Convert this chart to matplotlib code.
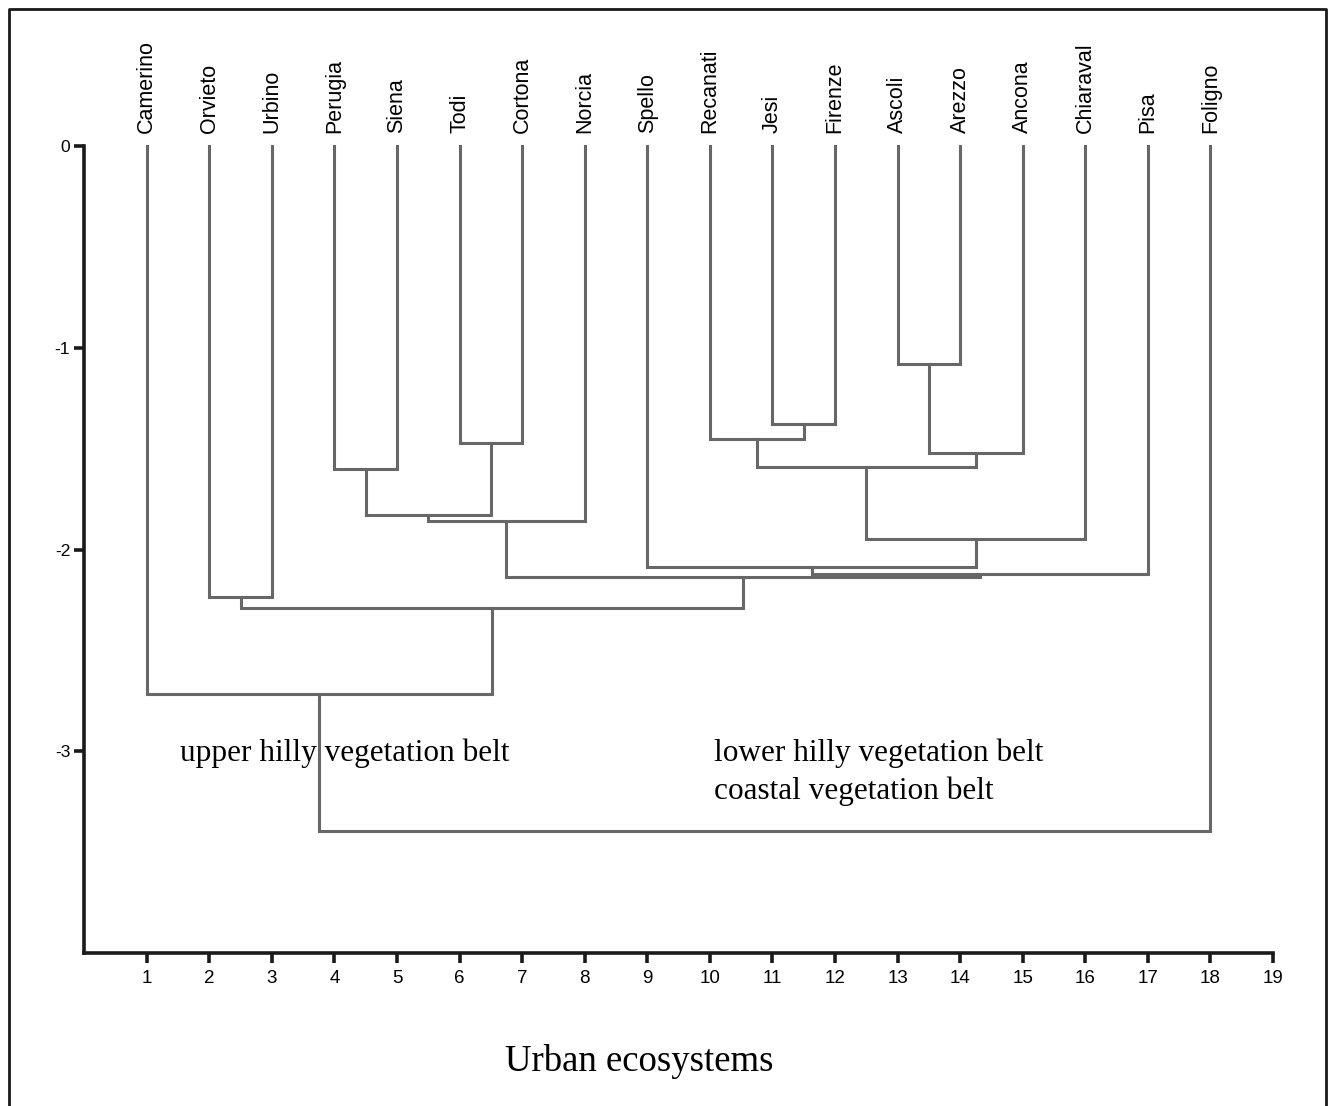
import matplotlib
matplotlib.use("Agg")
import matplotlib.pyplot as plt
from matplotlib.lines import Line2D

# ---- data ----
leaf_names = ["Camerino", "Orvieto", "Urbino", "Perugia", "Siena", "Todi", "Cortona",
              "Norcia", "Spello", "Recanati", "Jesi", "Firenze", "Ascoli", "Arezzo",
              "Ancona", "Chiaraval", "Pisa", "Foligno"]
# merges: (child_a, child_b, height); leaves are 0..17, new clusters numbered from 18
merge_a = [12, 10, 5, 9, 18, 3, 21, 23, 25, 24, 8, 28, 26, 1, 31, 0, 33]
merge_b = [13, 11, 6, 19, 14, 4, 22, 20, 7, 15, 27, 16, 29, 2, 30, 32, 17]
merge_h = [-1.08, -1.38, -1.47, -1.45, -1.52, -1.60, -1.59, -1.83, -1.86, -1.95,
           -2.085, -2.12, -2.135, -2.235, -2.29, -2.715, -3.395]
x_ticks = list(range(1, 20))
y_ticks = [0, -1, -2, -3]
annotations = [("upper hilly vegetation belt", 1.54, -3.01),
               ("lower hilly vegetation belt", 10.06, -3.01),
               ("coastal vegetation belt", 10.06, -3.20)]

# ---- figure ----
fig = plt.figure(figsize=(13.3, 11.06), dpi=100)
ax = fig.add_axes([0.0632, 0.1383, 0.8940, 0.7297])
ax.set_xlim(0, 19)
ax.set_ylim(-4, 0)

line_col = "#676767"
lw = 2.2

n = len(leaf_names)
pos = {i: (i + 1.0, 0.0) for i in range(n)}
for k, (a, b, h) in enumerate(zip(merge_a, merge_b, merge_h)):
    xa, ya = pos[a]
    xb, yb = pos[b]
    ax.plot([xa, xa, xb, xb], [ya, h, h, yb], color=line_col, lw=lw,
            solid_joinstyle="miter", solid_capstyle="projecting", clip_on=False, zorder=2)
    pos[n + k] = ((xa + xb) / 2.0, h)

# leaf labels
for i, name in enumerate(leaf_names):
    ax.annotate(name, xy=(i + 1, 0), xytext=(0, 9), textcoords="offset points",
                rotation=90, ha="center", va="bottom", fontsize=15.5,
                family="Liberation Sans", annotation_clip=False)

for txt, x, y in annotations:
    ax.text(x, y, txt, ha="left", va="center", fontsize=22.5,
            family="Liberation Serif", zorder=3)

# axes styling
for s in ["top", "right"]:
    ax.spines[s].set_visible(False)
for s in ["left", "bottom"]:
    ax.spines[s].set_linewidth(2.6)
    ax.spines[s].set_color("#1a1a1a")
ax.set_xticks(x_ticks)
ax.set_xticklabels([str(t) for t in x_ticks], family="Liberation Sans", fontsize=13.5)
ax.set_yticks(y_ticks)
ax.set_yticklabels([str(t) for t in y_ticks], family="Liberation Sans", fontsize=12.5)
ax.tick_params(axis="x", direction="out", length=7, width=2.6, pad=5, color="#1a1a1a")
ax.tick_params(axis="y", direction="out", length=7, width=2.6, pad=3, color="#1a1a1a")
ax.patch.set_visible(False)

fig.text(0.481, 0.040, "Urban ecosystems", ha="center", va="center",
         fontsize=26.5, family="Liberation Serif")

# outer frame (left, top, right)
fx0, fx1, fy1 = 8.5 / 1330, 1325.5 / 1330, 1 - 9 / 1106
fig.add_artist(Line2D([fx0, fx0, fx1, fx1], [0, fy1, fy1, 0],
                      transform=fig.transFigure, color="#1a1a1a", lw=2.0))

fig.savefig("out.png", dpi=100)
